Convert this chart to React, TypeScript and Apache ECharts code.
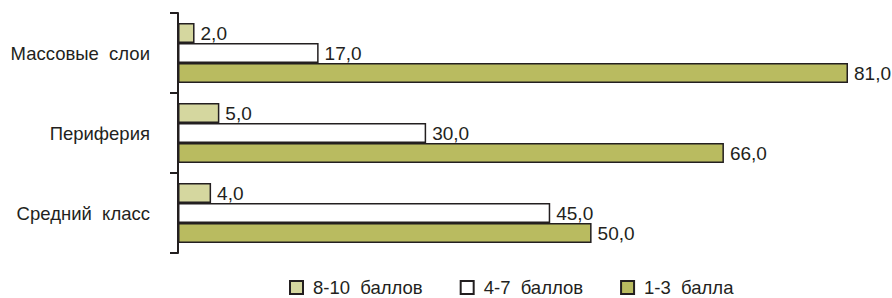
import React, { useEffect, useRef } from "react";
import * as echarts from "echarts";

const categories = ["Массовые  слои", "Периферия", "Средний  класс"];
const seriesNames = ["8-10  баллов", "4-7  баллов", "1-3  балла"];
const high = [2, 5, 4];
const mid = [17, 30, 45];
const low = [81, 66, 50];
const colors = ["#d5d79f", "#ffffff", "#b9bb60"];

const INK = "#231f20";
const FONT = "'Liberation Sans', Arial, Helvetica, sans-serif";

export default function App() {
  const ref = useRef<HTMLDivElement>(null);
  useEffect(() => {
    if (!ref.current) return;
    const chart = echarts.init(ref.current, undefined, { renderer: "svg" });
    const values = [high, mid, low];
    chart.setOption({
      animation: false,
      backgroundColor: "#ffffff",
      grid: { left: 178, right: 44, top: 13, height: 240, containLabel: false },
      xAxis: { type: "value", min: 0, max: 81, show: false },
      yAxis: {
        type: "category",
        data: categories,
        inverse: true,
        axisLine: { show: true, lineStyle: { color: INK, width: 2 } },
        axisTick: { show: true, length: 8, lineStyle: { color: INK, width: 2 } },
        axisLabel: { color: INK, fontSize: 18.5, fontFamily: FONT, margin: 28 },
        splitLine: { show: false },
      },
      legend: {
        left: 289,
        top: 278,
        padding: 0,
        itemWidth: 13,
        itemHeight: 13,
        itemGap: 37,
        icon: "rect",
        textStyle: { color: INK, fontSize: 18.5, fontFamily: FONT, lineHeight: 18, padding: [0, 0, 0, 5] },
        data: seriesNames,
      },
      series: seriesNames.map((name, i) => ({
        name,
        type: "bar",
        data: values[i],
        barWidth: 20,
        barGap: "0%",
        itemStyle: { color: colors[i], borderColor: INK, borderWidth: 1.5 },
        label: {
          show: true,
          position: "right",
          distance: 6,
          color: INK,
          fontSize: 19,
          fontFamily: FONT,
          formatter: (p: any) => p.value.toFixed(1).replace(".", ","),
        },
      })),
    });
    return () => chart.dispose();
  }, []);
  return <div ref={ref} style={{ width: 892, height: 298, position: "absolute", left: 0, top: 0 }} />;
}
